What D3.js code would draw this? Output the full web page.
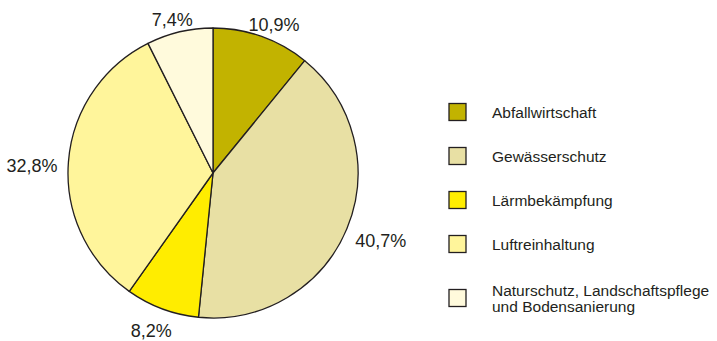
<!DOCTYPE html>
<html>
<head>
<meta charset="utf-8">
<script src="https://cdn.jsdelivr.net/npm/d3@7"></script>
<style>
  html, body { margin: 0; padding: 0; background: #ffffff; }
  svg { display: block; font-family: "Liberation Sans", Arial, Helvetica, sans-serif; }
</style>
</head>
<body>
<svg id="chart" width="717" height="341"></svg>
<script>
// Umweltschutzausgaben nach Bereichen (Anteile in %)
const categories = [
  "Abfallwirtschaft",
  "Gewässerschutz",
  "Lärmbekämpfung",
  "Luftreinhaltung",
  "Naturschutz, Landschaftspflege\nund Bodensanierung"
];
const shares = [10.9, 40.7, 8.2, 32.8, 7.4];
const colors = ["#c2b300", "#e8e0a4", "#ffed00", "#fff59b", "#fffadc"];

const fmt = v => d3.format(".1f")(v).replace(".", ",") + "%";

const svg = d3.select("#chart");
const cx = 213, cy = 173, radius = 145;
const ink = "#231f20";

const pie = d3.pie().sort(null).value(d => d.value);
const arcs = pie(categories.map((c, i) => ({ name: c, value: shares[i], color: colors[i] })));
const arc = d3.arc().innerRadius(0).outerRadius(radius);

const g = svg.append("g").attr("transform", `translate(${cx},${cy})`);

g.selectAll("path.slice")
  .data(arcs)
  .join("path")
  .attr("class", "slice")
  .attr("d", arc)
  .attr("fill", d => d.data.color)
  .attr("stroke", ink)
  .attr("stroke-width", 1.3)
  .attr("stroke-linejoin", "round");

// Percentage labels placed just outside the rim, pushed out by their own box size
const labelGap = 11;
const fontSize = 18;
g.selectAll("text.pct")
  .data(arcs)
  .join("text")
  .attr("class", "pct")
  .attr("font-size", fontSize)
  .attr("fill", ink)
  .attr("text-anchor", "middle")
  .text(d => fmt(d.data.value))
  .each(function(d) {
    const a = (d.startAngle + d.endAngle) / 2;
    const s = Math.sin(a), c = -Math.cos(a);
    const bb = this.getBBox();
    const w = bb.width, h = fontSize * 0.72;
    const px = (radius + labelGap) * s + s * w / 2;
    const py = (radius + labelGap) * c + c * h / 2 + 5;
    d3.select(this).attr("x", px).attr("y", py + h / 2);
  });

// Legend
const legendX = 449, box = 17, textX = 492;
const legendY = d3.scalePoint()
  .domain(categories)
  .range([112, 288]);

const legend = svg.append("g");
const items = legend.selectAll("g.item")
  .data(arcs)
  .join("g")
  .attr("class", "item")
  .attr("transform", (d, i) => {
    const lines = d.data.name.split("\n").length;
    const y = legendY(d.data.name) + (lines > 1 ? 10 : 0);
    return `translate(0,${y})`;
  });

items.append("rect")
  .attr("x", legendX)
  .attr("y", -box / 2)
  .attr("width", box)
  .attr("height", box)
  .attr("fill", d => d.data.color)
  .attr("stroke", ink)
  .attr("stroke-width", 1.3);

items.append("text")
  .attr("x", textX)
  .attr("font-size", 15.5)
  .attr("fill", ink)
  .each(function(d) {
    const lines = d.data.name.split("\n");
    const lh = 16;
    const y0 = -((lines.length - 1) * lh) / 2 + 5.5;
    d3.select(this).selectAll("tspan")
      .data(lines)
      .join("tspan")
      .attr("x", textX)
      .attr("y", (l, j) => y0 + j * lh)
      .text(l => l);
  });
</script>
</body>
</html>
